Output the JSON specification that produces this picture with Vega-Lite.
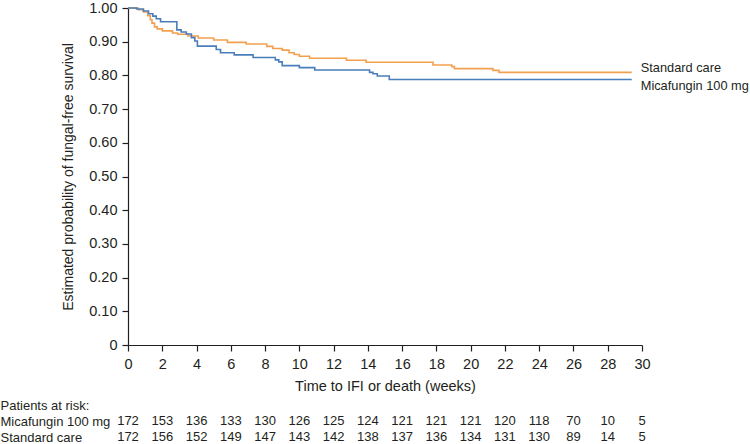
{
  "$schema": "https://vega.github.io/schema/vega-lite/v6.json",
  "padding": {"left": 0, "top": 0, "right": 0, "bottom": 0},
  "background": "white",
  "spacing": 6,
  "config": {
    "view": {"stroke": null},
    "font": "Liberation Sans",
    "text": {"font": "Liberation Sans", "color": "#231f20"},
    "axis": {
      "domainColor": "#231f20", "tickColor": "#231f20", "labelColor": "#231f20", "titleColor": "#231f20",
      "labelFont": "Liberation Sans", "titleFont": "Liberation Sans",
      "titleFontWeight": "normal", "grid": false, "domainWidth": 1.2, "tickWidth": 1.2
    }
  },
  "datasets": {
    "km": [
      {"g": "Standard care", "t": 0, "s": 1.0},
      {"g": "Standard care", "t": 0.6, "s": 0.995},
      {"g": "Standard care", "t": 0.9, "s": 0.988},
      {"g": "Standard care", "t": 1.15, "s": 0.977},
      {"g": "Standard care", "t": 1.3, "s": 0.965},
      {"g": "Standard care", "t": 1.4, "s": 0.955},
      {"g": "Standard care", "t": 1.55, "s": 0.944},
      {"g": "Standard care", "t": 1.7, "s": 0.938},
      {"g": "Standard care", "t": 2.0, "s": 0.932},
      {"g": "Standard care", "t": 2.6, "s": 0.926},
      {"g": "Standard care", "t": 2.9, "s": 0.922},
      {"g": "Standard care", "t": 3.5, "s": 0.917},
      {"g": "Standard care", "t": 4.1, "s": 0.911},
      {"g": "Standard care", "t": 5.0, "s": 0.905},
      {"g": "Standard care", "t": 5.8, "s": 0.898},
      {"g": "Standard care", "t": 6.9, "s": 0.893},
      {"g": "Standard care", "t": 8.1, "s": 0.886},
      {"g": "Standard care", "t": 8.45, "s": 0.88},
      {"g": "Standard care", "t": 9.0, "s": 0.875},
      {"g": "Standard care", "t": 9.4, "s": 0.867},
      {"g": "Standard care", "t": 9.7, "s": 0.862},
      {"g": "Standard care", "t": 10.0, "s": 0.857},
      {"g": "Standard care", "t": 10.6, "s": 0.851},
      {"g": "Standard care", "t": 12.75, "s": 0.845},
      {"g": "Standard care", "t": 13.9, "s": 0.839},
      {"g": "Standard care", "t": 17.8, "s": 0.831},
      {"g": "Standard care", "t": 18.9, "s": 0.826},
      {"g": "Standard care", "t": 19.05, "s": 0.82},
      {"g": "Standard care", "t": 21.3, "s": 0.815},
      {"g": "Standard care", "t": 21.65, "s": 0.809},
      {"g": "Standard care", "t": 29.4, "s": 0.809},
      {"g": "Micafungin 100 mg", "t": 0, "s": 1.0},
      {"g": "Micafungin 100 mg", "t": 0.5, "s": 0.997},
      {"g": "Micafungin 100 mg", "t": 0.9, "s": 0.991},
      {"g": "Micafungin 100 mg", "t": 1.2, "s": 0.983},
      {"g": "Micafungin 100 mg", "t": 1.45, "s": 0.976},
      {"g": "Micafungin 100 mg", "t": 1.65, "s": 0.968},
      {"g": "Micafungin 100 mg", "t": 1.9, "s": 0.959},
      {"g": "Micafungin 100 mg", "t": 2.85, "s": 0.935},
      {"g": "Micafungin 100 mg", "t": 3.1, "s": 0.929},
      {"g": "Micafungin 100 mg", "t": 3.4, "s": 0.923},
      {"g": "Micafungin 100 mg", "t": 3.7, "s": 0.912},
      {"g": "Micafungin 100 mg", "t": 3.9, "s": 0.902},
      {"g": "Micafungin 100 mg", "t": 4.05, "s": 0.887},
      {"g": "Micafungin 100 mg", "t": 5.15, "s": 0.877},
      {"g": "Micafungin 100 mg", "t": 5.4, "s": 0.867},
      {"g": "Micafungin 100 mg", "t": 6.2, "s": 0.861},
      {"g": "Micafungin 100 mg", "t": 7.3, "s": 0.853},
      {"g": "Micafungin 100 mg", "t": 8.6, "s": 0.846},
      {"g": "Micafungin 100 mg", "t": 8.8, "s": 0.84},
      {"g": "Micafungin 100 mg", "t": 9.0, "s": 0.829},
      {"g": "Micafungin 100 mg", "t": 10.0, "s": 0.823},
      {"g": "Micafungin 100 mg", "t": 10.9, "s": 0.816},
      {"g": "Micafungin 100 mg", "t": 14.1, "s": 0.809},
      {"g": "Micafungin 100 mg", "t": 14.3, "s": 0.805},
      {"g": "Micafungin 100 mg", "t": 14.55, "s": 0.798},
      {"g": "Micafungin 100 mg", "t": 15.25, "s": 0.788},
      {"g": "Micafungin 100 mg", "t": 29.4, "s": 0.788}
    ],
    "risk": [
      {"g": "Micafungin 100 mg", "t": 0, "n": 172}, {"g": "Micafungin 100 mg", "t": 2, "n": 153},
      {"g": "Micafungin 100 mg", "t": 4, "n": 136}, {"g": "Micafungin 100 mg", "t": 6, "n": 133},
      {"g": "Micafungin 100 mg", "t": 8, "n": 130}, {"g": "Micafungin 100 mg", "t": 10, "n": 126},
      {"g": "Micafungin 100 mg", "t": 12, "n": 125}, {"g": "Micafungin 100 mg", "t": 14, "n": 124},
      {"g": "Micafungin 100 mg", "t": 16, "n": 121}, {"g": "Micafungin 100 mg", "t": 18, "n": 121},
      {"g": "Micafungin 100 mg", "t": 20, "n": 121}, {"g": "Micafungin 100 mg", "t": 22, "n": 120},
      {"g": "Micafungin 100 mg", "t": 24, "n": 118}, {"g": "Micafungin 100 mg", "t": 26, "n": 70},
      {"g": "Micafungin 100 mg", "t": 28, "n": 10}, {"g": "Micafungin 100 mg", "t": 30, "n": 5},
      {"g": "Standard care", "t": 0, "n": 172}, {"g": "Standard care", "t": 2, "n": 156},
      {"g": "Standard care", "t": 4, "n": 152}, {"g": "Standard care", "t": 6, "n": 149},
      {"g": "Standard care", "t": 8, "n": 147}, {"g": "Standard care", "t": 10, "n": 143},
      {"g": "Standard care", "t": 12, "n": 142}, {"g": "Standard care", "t": 14, "n": 138},
      {"g": "Standard care", "t": 16, "n": 137}, {"g": "Standard care", "t": 18, "n": 136},
      {"g": "Standard care", "t": 20, "n": 134}, {"g": "Standard care", "t": 22, "n": 131},
      {"g": "Standard care", "t": 24, "n": 130}, {"g": "Standard care", "t": 26, "n": 89},
      {"g": "Standard care", "t": 28, "n": 14}, {"g": "Standard care", "t": 30, "n": 5}
    ]
  },
  "vconcat": [
    {
      "width": 514,
      "height": 337,
      "data": {"name": "km"},
      "encoding": {
        "x": {
          "field": "t", "type": "quantitative",
          "scale": {"domain": [0, 30], "nice": false},
          "axis": {
            "title": "Time to IFI or death (weeks)",
            "values": [0, 2, 4, 6, 8, 10, 12, 14, 16, 18, 20, 22, 24, 26, 28, 30],
            "labelFontSize": 14.5, "titleFontSize": 14.5,
            "tickSize": 6, "labelPadding": 6, "titlePadding": 9, "labelFlush": false
          }
        },
        "y": {
          "field": "s", "type": "quantitative",
          "scale": {"domain": [0, 1], "nice": false},
          "axis": {
            "title": "Estimated probability of fungal-free survival",
            "values": [0, 0.1, 0.2, 0.3, 0.4, 0.5, 0.6, 0.7, 0.8, 0.9, 1.0],
            "labelExpr": "datum.value == 0 ? '0' : format(datum.value, '.2f')",
            "labelFontSize": 14.5, "titleFontSize": 14,
            "tickSize": 6, "labelPadding": 5, "titlePadding": 13, "labelFlush": false
          }
        }
      },
      "layer": [
        {
          "mark": {"type": "line", "interpolate": "step-after", "strokeWidth": 1.6},
          "encoding": {
            "color": {
              "field": "g", "type": "nominal",
              "scale": {"domain": ["Micafungin 100 mg", "Standard care"], "range": ["#4a7ebb", "#f2a04f"]},
              "legend": null
            }
          }
        },
        {
          "transform": [{"filter": "datum.t == 29.4 && datum.g == 'Standard care'"}],
          "mark": {"type": "text", "align": "left", "dx": 9, "dy": -4, "fontSize": 12.8, "color": "#231f20"},
          "encoding": {"text": {"field": "g"}}
        },
        {
          "transform": [{"filter": "datum.t == 29.4 && datum.g == 'Micafungin 100 mg'"}],
          "mark": {"type": "text", "align": "left", "dx": 9, "dy": 7, "fontSize": 12.8, "color": "#231f20"},
          "encoding": {"text": {"field": "g"}}
        }
      ]
    },
    {
      "width": 514,
      "height": 32,
      "data": {"name": "risk"},
      "mark": {"type": "text", "fontSize": 13, "color": "#231f20"},
      "encoding": {
        "x": {
          "field": "t", "type": "quantitative",
          "scale": {"domain": [0, 30], "nice": false},
          "axis": null
        },
        "y": {
          "field": "g", "type": "nominal",
          "sort": ["Micafungin 100 mg", "Standard care"],
          "scale": {"type": "point", "padding": 0.5},
          "axis": {
            "title": "Patients at risk:",
            "titleAngle": 0, "titleAlign": "left", "titleBaseline": "middle",
            "titleX": -128, "titleY": -8, "titleFontSize": 13,
            "labelAlign": "left", "labelPadding": 128, "labelFontSize": 13,
            "ticks": false, "tickSize": 0, "domain": false
          }
        },
        "text": {"field": "n", "type": "quantitative"}
      }
    }
  ]
}
